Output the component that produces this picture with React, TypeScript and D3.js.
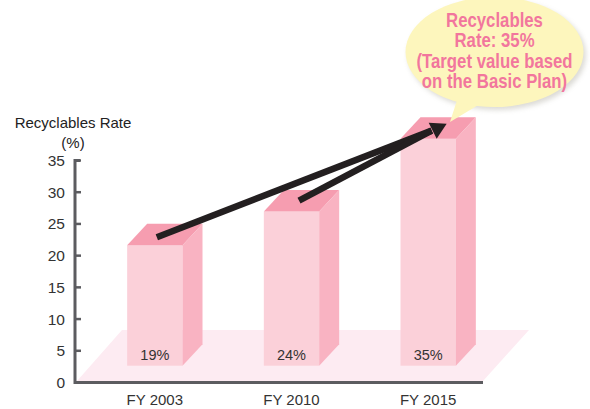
import React from "react";
import * as d3 from "d3";

const categories = ["FY 2003", "FY 2010", "FY 2015"];
const barValues = [19, 24.3, 35.8];
const barLabels = ["19%", "24%", "35%"];
const yTicks = [0, 5, 10, 15, 20, 25, 30, 35];
const bubbleLines = ["Recyclables", "Rate: 35%", "(Target value based", "on the Basic Plan)"];
const bubbleBaselines = [27, 47, 68, 88];

const W = 590;
const H = 409;
const y = d3.scaleLinear().domain([0, 35]).range([382.5, 160.5]);
const x = d3.scaleBand<string>().domain(categories).range([86.5, 496.5]).paddingInner(0.595).paddingOuter(0.2975);
const unit = y(0) - y(1);
const baseY = 365.7;
const depthX = 20;
const depthY = 21.5;
const barTop = (v: number) => baseY - v * unit;
const line = d3.line();
const poly = (pts: [number, number][]) => line(pts) + "Z";

const tip: [number, number] = [x("FY 2015")! + x.bandwidth() / 2 + 18.5, barTop(barValues[2]) - 15];
const neck: [number, number] = [tip[0] - 15, tip[1] + 7];
const starts: [number, number][] = [
  [x("FY 2003")! + x.bandwidth() / 2 + 2, barTop(barValues[0]) - 8],
  [x("FY 2010")! + x.bandwidth() / 2 + 7.5, barTop(barValues[1]) - 11],
];

export default function App() {
  const font = "'Liberation Sans', Arial, sans-serif";
  return (
    <svg width={W} height={H} style={{ position: "absolute", left: 0, top: 0 }} fontFamily={font}>
      <defs>
        <filter id="soft" x="-20%" y="-20%" width="140%" height="140%">
          <feGaussianBlur stdDeviation="2.5" />
        </filter>
      </defs>
      <path d={poly([[77, 381], [483, 381], [529, 330], [122, 330]])} fill="#fdebf2" />
      {categories.map((c, i) => {
        const x0 = x(c)!;
        const x1 = x0 + x.bandwidth();
        const t = barTop(barValues[i]);
        return (
          <g key={c}>
            <rect x={x0} y={t} width={x.bandwidth()} height={baseY - t} fill="#fbd0d9" />
            <path d={poly([[x0, t], [x1, t], [x1 + depthX, t - depthY], [x0 + depthX, t - depthY]])} fill="#f69db0" />
            <path d={poly([[x1, t], [x1 + depthX, t - depthY], [x1 + depthX, baseY - depthY], [x1, baseY]])} fill="#f9b3c2" />
            <text x={x0 + x.bandwidth() / 2} y={360} textAnchor="middle" fontSize={14.5} fill="#333">{barLabels[i]}</text>
            <text x={x0 + x.bandwidth() / 2} y={405} textAnchor="middle" fontSize={15} fill="#333">{c}</text>
          </g>
        );
      })}
      <path d={`M80,${y(35)}H75V${y(0)}H483`} fill="none" stroke="#5c5c60" strokeWidth={3} />
      {yTicks.map((t) => (
        <g key={t}>
          {t > 0 && <line x1={75} x2={81} y1={y(t)} y2={y(t)} stroke="#5c5c60" strokeWidth={2.5} />}
          <text x={65} y={y(t) + 5.5} textAnchor="end" fontSize={15.5} fill="#333">{t}</text>
        </g>
      ))}
      <text x={73} y={128} textAnchor="middle" fontSize={15} fill="#222">Recyclables Rate</text>
      <text x={73} y={148} textAnchor="middle" fontSize={15} fill="#222">(%)</text>

      {starts.map((s, i) => (
        <path key={i} d={line([s, neck])!} stroke="#231f20" strokeWidth={6.5} fill="none" />
      ))}
      <path d={poly([tip, [tip[0] - 18, tip[1] - 1], [tip[0] - 10, tip[1] + 15]])} fill="#231f20" />

      <g>
        <ellipse cx={497} cy={55} rx={89} ry={55} fill="#a8a59a" opacity={0.4} filter="url(#soft)" />
        <path d="M450,122L459,94L480,104Z" fill="#fdf6bd" />
        <ellipse cx={494.5} cy={52} rx={89} ry={55} fill="#fdf6bd" />
        {bubbleLines.map((l, i) => (
          <text
            key={l}
            transform={`translate(494.5,${bubbleBaselines[i]}) scale(0.86,1)`}
            textAnchor="middle"
            fontSize={19.5}
            fontWeight="bold"
            fill="#f2769d"
          >
            {l}
          </text>
        ))}
      </g>
    </svg>
  );
}
